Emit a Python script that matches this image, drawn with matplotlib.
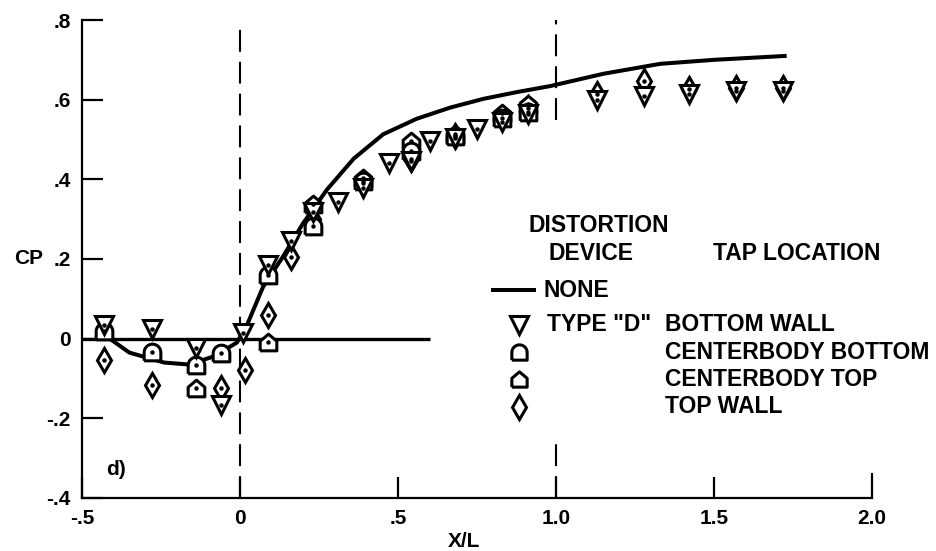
import numpy as np
import matplotlib.pyplot as plt
from matplotlib.path import Path

plt.rcParams['font.family'] = ['Liberation Sans', 'DejaVu Sans']
plt.rcParams['font.weight'] = 'bold'

# clean duct, no distortion device
x_none = [-0.43, -0.35, -0.24, -0.16, -0.085, -0.01, 0.02, 0.073, 0.136, 0.20,
          0.275, 0.36, 0.453, 0.559, 0.665, 0.77, 0.876, 0.981, 1.15, 1.33, 1.50, 1.73]
cp_none = [0.01, -0.035, -0.06, -0.065, -0.045, -0.01, 0.03, 0.13, 0.206, 0.29,
           0.374, 0.452, 0.513, 0.552, 0.580, 0.602, 0.619, 0.634, 0.665, 0.69, 0.70, 0.71]

# TYPE "D" device, taps by location
x_bottom = [-0.43, -0.28, -0.14, -0.06, 0.01, 0.09, 0.16, 0.23, 0.31, 0.39, 0.47,
            0.54, 0.60, 0.68, 0.75, 0.83, 0.91, 1.13, 1.28, 1.42, 1.57, 1.72]
cp_bottom = [0.035, 0.025, -0.023, -0.166, 0.015, 0.186, 0.244, 0.319, 0.344, 0.379, 0.442,
             0.445, 0.495, 0.505, 0.527, 0.545, 0.563, 0.600, 0.608, 0.615, 0.622, 0.622]

x_cb_bottom = [-0.43, -0.28, -0.14, -0.06, 0.09, 0.23, 0.39, 0.54, 0.68, 0.83, 0.91]
cp_cb_bottom = [0.018, -0.033, -0.065, -0.035, 0.16, 0.282, 0.395, 0.47, 0.51, 0.555, 0.57]

x_cb_top = [-0.14, 0.09, 0.23, 0.39, 0.54, 0.68, 0.83, 0.91]
cp_cb_top = [-0.123, -0.008, 0.337, 0.404, 0.495, 0.515, 0.567, 0.588]

x_top = [-0.43, -0.28, -0.06, 0.016, 0.09, 0.16, 0.23, 0.39, 0.54, 0.68, 0.91,
         1.13, 1.28, 1.42, 1.57, 1.72]
cp_top = [-0.053, -0.116, -0.123, -0.078, 0.06, 0.204, 0.30, 0.39, 0.45, 0.51, 0.58,
          0.615, 0.646, 0.627, 0.63, 0.63]

x_ticks = [-0.5, 0, 0.5, 1.0, 1.5, 2.0]
x_ticklabels = ['-.5', '0', '.5', '1.0', '1.5', '2.0']
y_ticks = [-0.4, -0.2, 0, 0.2, 0.4, 0.6, 0.8]
y_ticklabels = ['-.4', '-.2', '0', '.2', '.4', '.6', '.8']

zero_line_x = [-0.5, 0.6]

# marker outlines: rounded dome and pointed house
t = np.linspace(0, np.pi, 25)
dome = Path(np.vstack([[[-1, -1], [1, -1]], np.column_stack([np.cos(t), np.sin(t)]), [[-1, -1]]]))
house = Path([(-1, -1), (1, -1), (1, 0.15), (0, 1), (-1, 0.15), (-1, -1)])

fig = plt.figure(figsize=(9.36, 5.51), dpi=100)
ax = fig.add_axes([0.0876, 0.0962, 0.844, 0.8675])

dash = (10.5, 4.8)
ax.axvline(0, color='black', lw=1.5, dashes=dash)
ax.axvline(1.0, ymin=0.79, ymax=1.0, color='black', lw=1.5, dashes=dash)
ax.axvline(1.0, ymin=0.0, ymax=0.12, color='black', lw=1.5, dashes=dash)
ax.hlines(0, zero_line_x[0], zero_line_x[1], color='black', lw=2.4)
ax.plot(x_none, cp_none, color='black', lw=2.9, solid_capstyle='butt')

mk = dict(ls='none', mfc='white', mec='black', mew=2.2)
ax.plot(x_top, cp_top, marker='d', ms=12.5, **mk)
ax.plot(x_cb_top, cp_cb_top, marker=house, ms=12, **mk)
ax.plot(x_cb_bottom, cp_cb_bottom, marker=dome, ms=12, **mk)
ax.plot(x_bottom, cp_bottom, marker='v', ms=13, **mk)
for xs, ys in [(x_top, cp_top), (x_cb_top, cp_cb_top), (x_cb_bottom, cp_cb_bottom), (x_bottom, cp_bottom)]:
    ax.plot(xs, ys, ls='none', marker='o', ms=2.2, color='black')

ax.set_xlim(-0.5, 2.0)
ax.set_ylim(-0.4, 0.8)
ax.set_xticks(x_ticks)
ax.set_xticklabels(x_ticklabels)
ax.set_yticks(y_ticks)
ax.set_yticklabels(y_ticklabels)
ax.tick_params(direction='in', length=15, width=1.6, labelsize=15, pad=8)
ax.xaxis.get_major_ticks()[-1].tick1line.set_markersize(18)
for s in ['top', 'right']:
    ax.spines[s].set_visible(False)
for s in ['left', 'bottom']:
    ax.spines[s].set_linewidth(1.6)

ax.set_xlabel('X/L', fontsize=15, fontweight='bold')
ax.xaxis.set_label_coords(0.484, -0.071)
ax.text(-0.068, 0.502, 'CP', transform=ax.transAxes, fontsize=15, ha='center', va='center')
ax.text(0.03, 0.06, 'd)', transform=ax.transAxes, fontsize=15, ha='left', va='center')

# key
fs = 16.5
ax.text(0.654, 0.571, 'DISTORTION', transform=ax.transAxes, fontsize=fs, ha='center', va='center')
ax.text(0.644, 0.5125, 'DEVICE', transform=ax.transAxes, fontsize=fs, ha='center', va='center')
ax.text(0.799, 0.5125, 'TAP LOCATION', transform=ax.transAxes, fontsize=fs, ha='left', va='center')
ax.plot([0.52, 0.572], [0.435, 0.435], transform=ax.transAxes, color='black', lw=2.9)
ax.text(0.584, 0.435, 'NONE', transform=ax.transAxes, fontsize=fs, ha='left', va='center')
rows = [('v', 13, 'TYPE "D"', 'BOTTOM WALL'),
        (dome, 11, '', 'CENTERBODY BOTTOM'),
        (house, 11, '', 'CENTERBODY TOP'),
        ('d', 12, '', 'TOP WALL')]
for i, (m, ms, dev, loc) in enumerate(rows):
    yy = 0.362 - i * 0.057
    ax.plot([0.553], [yy], transform=ax.transAxes, marker=m, ms=ms, mfc='white', mec='black', mew=2.2)
    ax.text(0.589, yy, dev, transform=ax.transAxes, fontsize=fs, ha='left', va='center')
    ax.text(0.738, yy, loc, transform=ax.transAxes, fontsize=fs, ha='left', va='center')

fig.savefig('out.png', dpi=100)
